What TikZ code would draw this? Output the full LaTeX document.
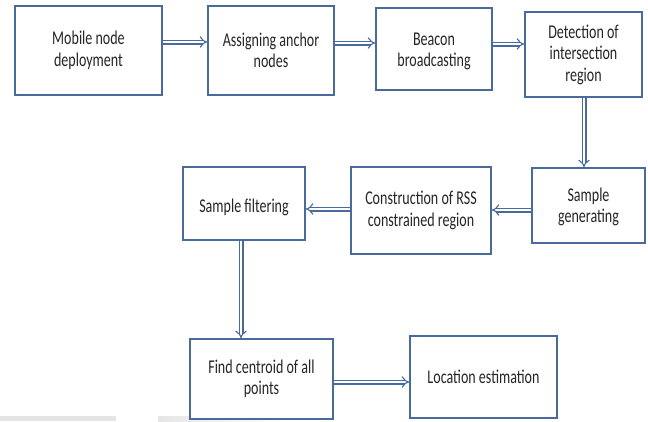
\documentclass[tikz,border=0pt]{standalone}
\usepackage{fontspec}
\setmainfont{Carlito}[FakeStretch=0.72]
\usetikzlibrary{arrows.meta}
\definecolor{boxblue}{RGB}{72,106,156}
\definecolor{arrblue}{RGB}{72,106,156}
\newcommand{\lowertext}[2]{\raisebox{-#1}[\height][\depth]{#2}}
\begin{document}
\begin{tikzpicture}[x=1pt,y=-1pt,
  box/.style={draw=boxblue, fill=white, line width=1.3pt, align=center, inner sep=0pt,
    font=\fontsize{19.5}{21.5}\selectfont, text=black!85},
  arr/.style={draw=arrblue, line width=1.1pt, double=white, double distance=2.8pt, -{Implies}}]
\useasboundingbox (0,0) rectangle (648,421);
% faint shadow strips at the bottom
\fill[gray!20] (0,416) rectangle (116,421);
\shade[left color=gray!20, right color=white] (158,416) rectangle (290,421);
% boxes
\node[box, minimum width=147pt, minimum height=89pt] (b1) at (88.5,50.5) {Mobile node\\deployment};
\node[box, minimum width=126pt, minimum height=89pt] (b2) at (271,50.5) {Assigning anchor\\nodes};
\node[box, minimum width=116pt, minimum height=82pt] (b3) at (434,49) {\lowertext{2.5pt}{Beacon}\\\lowertext{2.5pt}{broadcasting}};
\node[box, minimum width=117pt, minimum height=85pt] (b4) at (583.5,54.5) {Detection of\\intersection\\region};
\node[box, minimum width=113pt, minimum height=75pt] (b5) at (588.5,205.5) {\lowertext{1.5pt}{Sample}\\\lowertext{1.5pt}{generating}};
\node[box, minimum width=140pt, minimum height=87pt] (b6) at (421,210.5) {Construction of RSS\\constrained region};
\node[box, minimum width=122pt, minimum height=73pt] (b7) at (244,203.5) {\lowertext{4pt}{Sample filtering}};
\node[box, minimum width=143pt, minimum height=80pt] (b8) at (261.5,379) {Find centroid of all\\points};
\node[box, minimum width=147pt, minimum height=82pt] (b9) at (483.5,377) {Location estimation};
% guide coordinates for connector heights
\coordinate (h1) at (0,42);
\coordinate (h2) at (0,43);
\coordinate (h3) at (0,44);
\coordinate (v1) at (584,0);
\coordinate (h4) at (0,210);
\coordinate (h5) at (0,209);
\coordinate (v2) at (241,0);
\coordinate (h6) at (0,382);
% connectors
\draw[arr] (b1.east |- h1) -- (b2.west |- h1);
\draw[arr] (b2.east |- h2) -- (b3.west |- h2);
\draw[arr] (b3.east |- h3) -- (b4.west |- h3);
\draw[arr] (b4.south -| v1) -- (b5.north -| v1);
\draw[arr] (b5.west |- h4) -- (b6.east |- h4);
\draw[arr] (b6.west |- h5) -- (b7.east |- h5);
\draw[arr] (b7.south -| v2) -- (b8.north -| v2);
\draw[arr] (b8.east |- h6) -- (b9.west |- h6);
\end{tikzpicture}
\end{document}
